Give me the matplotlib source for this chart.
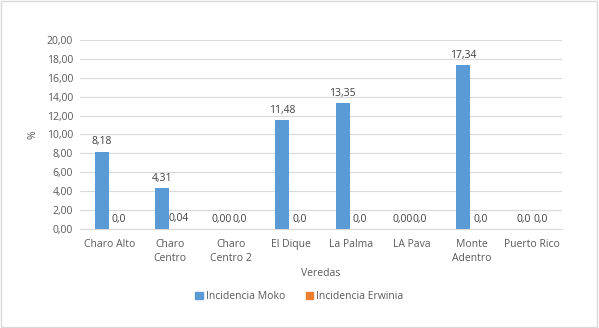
import matplotlib
matplotlib.use("Agg")
import matplotlib.pyplot as plt
from matplotlib.patches import Rectangle, Patch
import numpy as np

categories = ["Charo Alto", "Charo\nCentro", "Charo\nCentro 2", "El Dique", "La Palma", "LA Pava", "Monte\nAdentro", "Puerto Rico"]
moko = [8.18, 4.31, 0.00, 11.48, 13.35, 0.00, 17.34, 0.0]
erwinia = [0.0, 0.04, 0.0, 0.0, 0.0, 0.0, 0.0, 0.0]
moko_labels = ["8,18", "4,31", "0,00", "11,48", "13,35", "0,00", "17,34", "0,0"]
erwinia_labels = ["0,0", "0,04", "0,0", "0,0", "0,0", "0,0", "0,0", "0,0"]
yticks = np.arange(0, 21, 2)

blue = "#5B9BD5"
orange = "#ED7D31"
txt = "#595959"
plt.rcParams['font.family'] = ['Open Sans', 'DejaVu Sans']

fig = plt.figure(figsize=(5.99, 3.28), dpi=100)
fig.patches.append(Rectangle((0.002, 0.003), 0.995, 0.994, transform=fig.transFigure,
                             fill=False, edgecolor="#d9d9d9", linewidth=1))
ax = fig.add_axes([0.1336, 0.302, 0.8047, 0.576])

x = np.arange(len(categories))
w = 0.232
off = 0.142
ax.bar(x - off, moko, width=w, color=blue, zorder=3)
ax.bar(x + off, erwinia, width=w, color=orange, zorder=3)

for i in range(len(categories)):
    ax.text(x[i] - off, moko[i] + 0.45, moko_labels[i], ha="center", va="bottom", fontsize=7.5, color="#404040")
    ax.text(x[i] + off, erwinia[i] + 0.45, erwinia_labels[i], ha="center", va="bottom", fontsize=7.5, color="#404040")

ax.set_xlim(-0.5, len(categories) - 0.5)
ax.set_ylim(0, 20)
ax.set_yticks(yticks)
ax.set_yticklabels([f"{v:.2f}".replace(".", ",") for v in yticks], fontsize=7.5, color=txt)
ax.set_xticks(x)
ax.set_xticklabels(categories, fontsize=7.5, color=txt, linespacing=1.4)
ax.tick_params(length=0, pad=5)
ax.tick_params(axis="x", pad=7)
ax.grid(axis="y", color="#d9d9d9", linewidth=0.8, zorder=0)
for s in ["top", "right", "left"]:
    ax.spines[s].set_visible(False)
ax.spines["bottom"].set_color("#d9d9d9")
ax.set_ylabel("%", fontsize=7.5, color=txt, labelpad=6)
ax.set_xlabel("Veredas", fontsize=7.5, color=txt, labelpad=3)

handles = [Patch(color=blue), Patch(color=orange)]
fig.legend(handles, ["Incidencia Moko", "Incidencia Erwinia"], loc="center",
           bbox_to_anchor=(0.5, 0.095), ncol=2, frameon=False, fontsize=7.5,
           labelcolor=txt, handlelength=0.7, handleheight=0.7, handletextpad=0.3,
           columnspacing=2.0)

fig.savefig("out.png", dpi=100)
